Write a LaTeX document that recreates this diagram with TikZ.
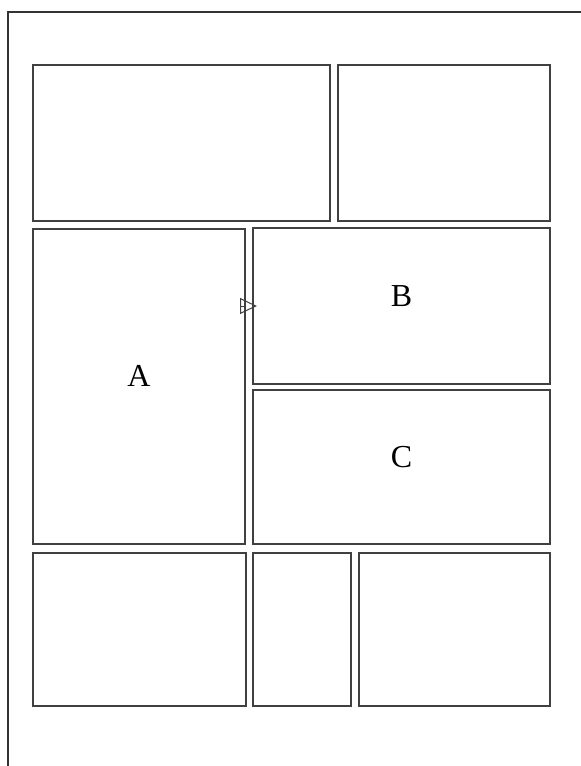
\documentclass[tikz,border=0pt]{standalone}
\usepackage{fontspec}
\setmainfont{Liberation Serif}
\usetikzlibrary{arrows.meta,calc}
\tikzset{link/.style={-{Triangle[open,length=17pt,width=16pt]}, line width=1pt, draw=black!75},
  panel/.style={draw=black!75, line width=1.3pt, inner sep=0pt, outer sep=0pt},
  tag/.style={font=\fontsize{32}{38}\selectfont, inner sep=0pt, anchor=base}}

\begin{document}
\begin{tikzpicture}[x=1pt, y=-1pt]
  \useasboundingbox (0,0) rectangle (581,766);
  \draw[black!80, line width=1.3pt] (8,766) -- (8,12) -- (581,12);
  \foreach \n/\x/\y/\w/\h in {tl/181.5/143/297/156, tr/444/143/212/156,
      A/139/386.5/212/315, B/401.5/306/297/156, C/401.5/467/297/154,
      bl/139.5/629.5/213/153, bm/302/629.5/98/153, br/454.5/629.5/191/153}{
    \node[panel, minimum width=\w pt, minimum height=\h pt] (\n) at (\x,\y) {};}
  \node[tag] (tA) at (A.center) {A};
  \node[tag] (tB) at (B.center) {B};
  \node[tag] (tC) at (C.center) {C};
  \draw[link] (A.east |- B.west) -- ([xshift=4pt]B.west);
\end{tikzpicture}
\end{document}
